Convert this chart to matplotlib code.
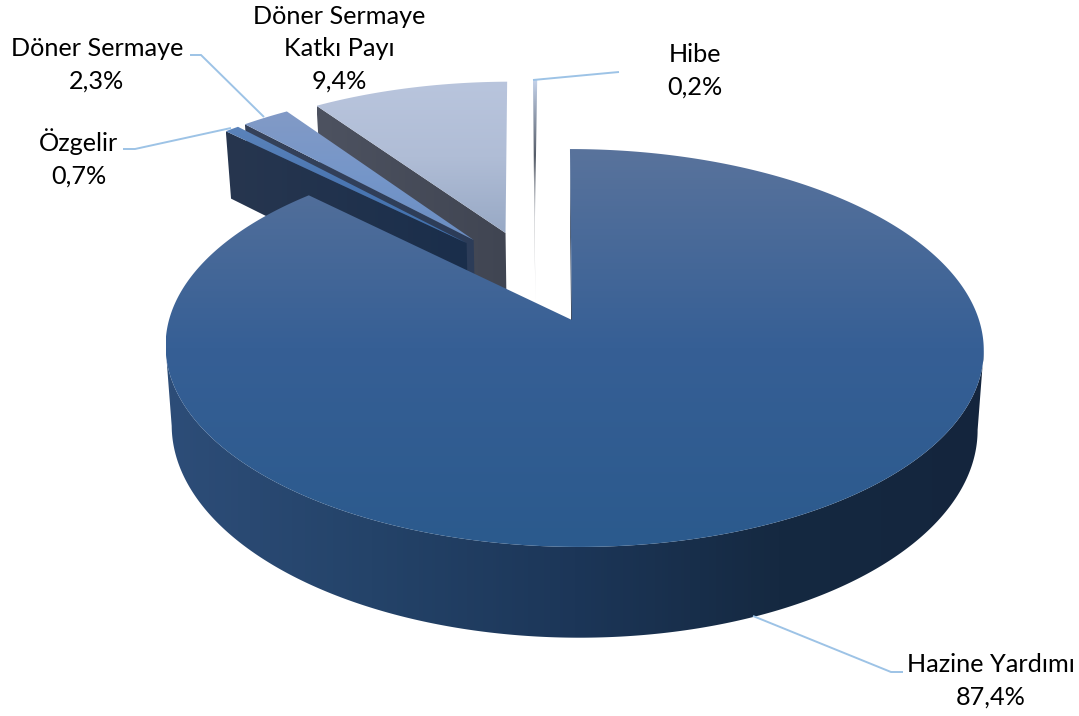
import numpy as np
import matplotlib
matplotlib.use("Agg")
import matplotlib.pyplot as plt
from matplotlib.patches import Polygon
from matplotlib.colors import LinearSegmentedColormap

# ---- data ----
names = ["Hazine Yardımı", "Özgelir", "Döner Sermaye", "Döner Sermaye\nKatkı Payı", "Hibe"]
values = [87.4, 0.7, 2.3, 9.4, 0.2]

# ---- styling per slice (same order as the data) ----
explode_u = [0.0, -0.271, -0.253, -0.170, -0.093]
explode_v = [0.0, -0.418, -0.4355, -0.476, -0.489]
face_top = ["#59739c", "#5b83ba", "#829ac6", "#b9c5dd", "#c4d2ea"]
face_mid = ["#365f95", "#4a76b2", "#7596c9", "#b0bdd6", "#555c68"]
face_bot = ["#2b5a8d", "#4171ae", "#6a8dc2", "#98a9c5", "#e8eaee"]
wall_left = ["#2d4d78", "#27364f", "#36425a", "#4d5260", "#8a93a3"]
wall_right = ["#14253d", "#1a2e4b", "#2c3c58", "#404552", "#3b4048"]

# projection of the tilted disc
X0, Y0, A, B, C, K, DEPTH, SHRINK = 574, 320, 195, 405, 4.6, 0.1407, 78, 0.985
APEX_U = -0.005


def project(u, v, down=False):
    u, v = np.asarray(u, float), np.asarray(v, float)
    s = 1 - K * v
    x = X0 + (B * u + C * v) / s
    y = Y0 + A * v / s
    if down:
        y = y + DEPTH / s
        x = X0 + (x - X0) * SHRINK
    return x, y


fig = plt.figure(figsize=(10.79, 7.16), dpi=100)
ax = fig.add_axes([0, 0, 1, 1])
ax.axis("off")
layer = [1]


def grad_fill(xs, ys, stops, horizontal):
    pts = np.column_stack([xs, ys])
    x0, x1, y0, y1 = xs.min(), xs.max(), ys.min(), ys.max()
    cmap = LinearSegmentedColormap.from_list("g", stops)
    if horizontal:
        g = np.linspace(0, 1, 256).reshape(1, -1)
    else:
        g = np.linspace(0, 1, 256).reshape(-1, 1)
    im = ax.imshow(g, extent=[x0, x1, y1, y0], origin="upper", cmap=cmap, vmin=0, vmax=1,
                   aspect="auto", interpolation="bilinear", zorder=layer[0])
    im.set_clip_path(Polygon(pts, closed=True, transform=ax.transData))
    layer[0] += 1


fractions = np.array(values) / sum(values)
edges = np.concatenate([[0], np.cumsum(fractions)]) * 2 * np.pi
draw_order = [4, 3, 2, 1, 0]

for i in draw_order:
    th = np.linspace(edges[i], edges[i + 1], max(4, int(values[i] * 8)))
    du, dv = explode_u[i], explode_v[i]
    u = np.sin(th) + du
    v = -np.cos(th) + dv
    au, av = APEX_U + du, dv
    rx, ry = project(u, v)
    bx, by = project(u, v, True)
    ax0, ay0 = project(au, av)
    ax1, ay1 = project(au, av, True)
    # radial wall
    wx = np.array([rx[0], ax0, ax1, bx[0]])
    wy = np.array([ry[0], ay0, ay1, by[0]])
    if i == 0:
        grad_fill(wx, wy, ["#2c3f5e", "#101d30"], False)
        # outer wall: only the part facing the viewer, between the widest points
        a, b = int(np.argmax(rx)), int(np.argmin(rx))
        ox = np.concatenate([rx[a:b + 1], bx[a:b + 1][::-1]])
        oy = np.concatenate([ry[a:b + 1], by[a:b + 1][::-1]])
        grad_fill(ox, oy, ["#2d4d78", "#244369", "#1c3658", "#152941", "#14253d"], True)
    elif i == 4:
        grad_fill(wx, wy, [wall_left[i], wall_right[i], "#c9ccd2"], False)
    else:
        grad_fill(wx, wy, [wall_left[i], wall_right[i]], True)
    # top face
    fx = np.concatenate([[ax0], rx])
    fy = np.concatenate([[ay0], ry])
    grad_fill(fx, fy, [face_top[i], face_mid[i], face_bot[i]], False)

# ---- labels ----
leader_x = [[753, 891, 903], [231, 135, 123], [264, 201, 190], None, [533, 608, 619]]
leader_y = [[616, 672, 672], [128, 149, 149], [117, 55, 55], None, [80, 73, 72]]
label_x = [991, 79, 97, 339, 695]
label_y = [681, 158, 65, 49, 71]
for i, name in enumerate(names):
    if leader_x[i]:
        ax.plot(leader_x[i], leader_y[i], color="#9dc3e6", lw=1.4, zorder=50,
                solid_joinstyle="miter", solid_capstyle="butt")
    pct = f"{values[i]:.1f}".replace(".", ",") + "%"
    ax.text(label_x[i], label_y[i], f"{name}\n{pct}", ha="center", va="center",
            fontsize=18.2, linespacing=1.48, color="#000000", zorder=60, family="Lato")

ax.set_xlim(0, 1079)
ax.set_ylim(716, 0)
fig.savefig("out.png", dpi=100, facecolor="white")
